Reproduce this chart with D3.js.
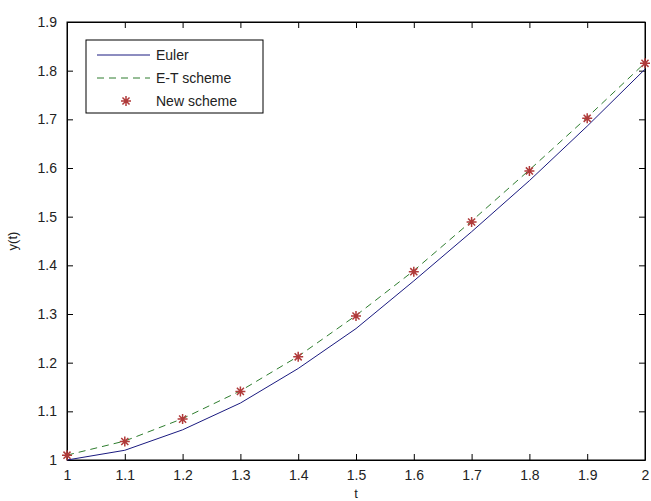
<!DOCTYPE html>
<html>
<head>
<meta charset="utf-8">
<script src="https://cdn.jsdelivr.net/npm/d3@7"></script>
<style>
  html, body { margin: 0; padding: 0; background: #fff; }
  svg { display: block; }
  text { font-family: "Liberation Sans", Arial, sans-serif; }
</style>
</head>
<body>
<svg id="chart" width="651" height="501"></svg>
<script>
const t = [1.0, 1.1, 1.2, 1.3, 1.4, 1.5, 1.6, 1.7, 1.8, 1.9, 2.0];
const euler = [1.000, 1.020, 1.062, 1.117, 1.188, 1.270, 1.368, 1.469, 1.574, 1.686, 1.803];
const etScheme = [1.010, 1.039, 1.085, 1.142, 1.213, 1.297, 1.389, 1.491, 1.596, 1.704, 1.816];
const newScheme = [1.010, 1.038, 1.084, 1.141, 1.212, 1.296, 1.387, 1.489, 1.594, 1.702, 1.815];
const xTicks = [1, 1.1, 1.2, 1.3, 1.4, 1.5, 1.6, 1.7, 1.8, 1.9, 2];
const yTicks = [1, 1.1, 1.2, 1.3, 1.4, 1.5, 1.6, 1.7, 1.8, 1.9];
const legendLabels = ["Euler", "E-T scheme", "New scheme"];

const svg = d3.select("#chart");
const L = 67, R = 645, T = 22, B = 460;
const x = d3.scaleLinear().domain([1, 2]).range([L, R]);
const y = d3.scaleLinear().domain([1, 1.9]).range([B, T]);

const colEuler = "#1a1a80", colET = "#2e7d2e", colNew = "#b03a3a";
const fmt = d => String(+d.toFixed(1));
const tickLen = 6;

// bottom axis (ticks inward)
const gx = svg.append("g").attr("transform", `translate(0,${B})`)
  .call(d3.axisBottom(x).tickValues(xTicks).tickFormat(fmt).tickSizeInner(-tickLen).tickSizeOuter(0).tickPadding(10));
const gxt = svg.append("g").attr("transform", `translate(0,${T})`)
  .call(d3.axisTop(x).tickValues(xTicks).tickFormat("").tickSizeInner(-tickLen).tickSizeOuter(0));
const gy = svg.append("g").attr("transform", `translate(${L},0)`)
  .call(d3.axisLeft(y).tickValues(yTicks).tickFormat(fmt).tickSizeInner(-tickLen).tickSizeOuter(0).tickPadding(10));
const gyr = svg.append("g").attr("transform", `translate(${R},0)`)
  .call(d3.axisRight(y).tickValues(yTicks).tickFormat("").tickSizeInner(-tickLen).tickSizeOuter(0));

[gx, gxt, gy, gyr].forEach(g => {
  g.selectAll(".domain").attr("stroke", "#000");
  g.selectAll(".tick line").attr("stroke", "#000");
  g.selectAll("text").attr("font-size", 14).attr("fill", "#222")
    .attr("font-family", "'Liberation Sans', Arial, sans-serif");
});

// frame
svg.append("rect").attr("x", L).attr("y", T).attr("width", R - L).attr("height", B - T)
  .attr("fill", "none").attr("stroke", "#000").attr("stroke-width", 1);

// axis labels
svg.append("text").attr("x", (L + R) / 2).attr("y", 498).attr("text-anchor", "middle")
  .attr("font-size", 13).attr("fill", "#222").text("t");
svg.append("text").attr("transform", `translate(17,${(T + B) / 2}) rotate(-90)`)
  .attr("text-anchor", "middle").attr("font-size", 13).attr("fill", "#222").text("y(t)");

const line = d3.line().x((d, i) => x(t[i])).y(d => y(d));

svg.append("path").datum(euler).attr("d", line)
  .attr("fill", "none").attr("stroke", colEuler).attr("stroke-width", 1);
svg.append("path").datum(etScheme).attr("d", line)
  .attr("fill", "none").attr("stroke", colET).attr("stroke-width", 1).attr("stroke-dasharray", "7,5");

const starPath = (r) => {
  const d = r * Math.SQRT1_2;
  return `M${-r},0L${r},0M0,${-r}L0,${r}M${-d},${-d}L${d},${d}M${-d},${d}L${d},${-d}`;
};
svg.append("g").selectAll("path").data(newScheme).join("path")
  .attr("transform", (d, i) => `translate(${x(t[i])},${y(d)})`)
  .attr("d", starPath(5)).attr("stroke", colNew).attr("stroke-width", 1.5).attr("fill", "none");

// legend
const lg = svg.append("g");
lg.append("rect").attr("x", 86).attr("y", 40).attr("width", 177).attr("height", 73)
  .attr("fill", "#fff").attr("stroke", "#000").attr("stroke-width", 1);
const rows = [55, 78, 101];
lg.append("line").attr("x1", 97).attr("x2", 150).attr("y1", rows[0]).attr("y2", rows[0])
  .attr("stroke", colEuler);
lg.append("line").attr("x1", 97).attr("x2", 150).attr("y1", rows[1]).attr("y2", rows[1])
  .attr("stroke", colET).attr("stroke-dasharray", "7,5");
lg.append("path").attr("transform", `translate(126,${rows[2]})`).attr("d", starPath(5))
  .attr("stroke", colNew).attr("stroke-width", 1.5).attr("fill", "none");
lg.selectAll("text.lab").data(legendLabels).join("text").attr("class", "lab")
  .attr("x", 156).attr("y", (d, i) => rows[i]).attr("dy", "0.35em")
  .attr("font-size", 14).attr("fill", "#222").text(d => d);
</script>
</body>
</html>
